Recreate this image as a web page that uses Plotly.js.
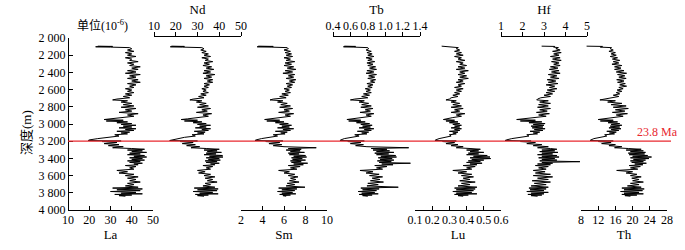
<!DOCTYPE html>
<html>
<head>
<meta charset="utf-8">
<script src="https://cdn.plot.ly/plotly-3.0.1.min.js"></script>
<style>
  html, body { margin: 0; padding: 0; background: #ffffff; }
  #chart { width: 685px; height: 250px; }
</style>
</head>
<body>
<div id="chart"></div>
<script>
// depth samples (m), shared by every element curve
var depth = [
  2095, 2098, 2102, 2106, 2112, 2125, 2140, 2155, 2170, 2185,
  2200, 2215, 2230, 2245, 2260, 2275, 2290, 2305, 2320, 2335,
  2350, 2365, 2380, 2395, 2410, 2425, 2440, 2455, 2470, 2485,
  2500, 2515, 2530, 2545, 2560, 2575, 2590, 2605, 2620, 2635,
  2650, 2665, 2680, 2695, 2710, 2720, 2730, 2745, 2760, 2775,
  2790, 2805, 2820, 2835, 2850, 2865, 2880, 2895, 2910, 2925,
  2940, 2948, 2956, 2965, 2975, 2985, 2995, 3005, 3015, 3025,
  3035, 3045, 3055, 3065, 3075, 3085, 3095, 3105, 3115, 3125,
  3140, 3155, 3170, 3185, 3192, 3198, 3204, 3215, 3228, 3240,
  3252, 3264, 3276, 3285, 3294, 3303, 3312, 3321, 3330, 3339,
  3348, 3357, 3366, 3375, 3384, 3393, 3402, 3411, 3420, 3429,
  3438, 3447, 3456, 3465, 3474, 3483, 3495, 3510, 3525, 3540,
  3555, 3570, 3585, 3600, 3615, 3630, 3645, 3660, 3675, 3690,
  3705, 3720, 3735, 3745, 3755, 3765, 3775, 3785, 3795, 3805,
  3812, 3819, 3826, 3833, 3840
];

// element contents (10^-6), one value per depth sample
var La = [
  24, 31, 23, 30, 39, 40, 38, 41, 37, 40,
  38, 42, 37, 40, 39, 43, 38, 41, 39, 44,
  40, 43, 38, 42, 37, 44, 39, 42, 38, 43,
  40, 44, 38, 42, 39, 41, 37, 40, 38, 41,
  37, 40, 36, 39, 33, 31, 38, 35, 40, 36,
  41, 35, 42, 37, 40, 34, 43, 38, 41, 36,
  30, 27, 36, 28, 38, 33, 40, 35, 42, 36,
  40, 34, 42, 37, 41, 33, 39, 35, 38, 32,
  34, 28, 24, 20, 19.5, 35, 26, 33, 27, 34,
  29, 36, 31, 40, 46, 38, 45, 40, 47, 39,
  44, 38, 46, 41, 47, 39, 45, 40, 46, 38,
  44, 39, 45, 41, 43, 37, 42, 39, 41, 33,
  38, 34, 41, 37, 43, 38, 42, 39, 44, 38,
  41, 37, 43, 31, 45, 33, 44, 30, 42, 35,
  45, 32, 40, 34, 37
];

var Nd = [
  18, 24, 17.5, 23, 32, 33, 31.5, 34, 32, 35,
  33, 36, 32, 35, 33.5, 37, 33, 35.5, 32.5, 36.5,
  34, 37.5, 33, 36, 32.5, 38, 34, 36.5, 33, 37,
  34.5, 37, 33, 35.5, 33, 35, 32, 34, 32.5, 35,
  31.5, 34, 30.5, 33, 28, 26.5, 32, 29.5, 34, 31,
  35, 30, 36, 32, 34.5, 29.5, 36.5, 32.5, 35, 31,
  25.5, 22.5, 30, 24, 32, 28, 34, 30, 36, 31,
  34, 29, 36, 32, 35, 28.5, 33.5, 30, 33, 27.5,
  29, 24, 21, 17.5, 17.2, 30, 22, 28, 23, 29,
  25, 31, 27, 34, 40, 33, 39, 34.5, 41, 34,
  38.5, 33, 41.5, 35.5, 41.7, 34, 40, 35, 40.5, 33.5,
  39, 34, 40, 36, 38, 32.5, 37, 34, 36, 30,
  33.5, 30.5, 36, 33, 38, 33.5, 37, 34.5, 39, 33.5,
  36, 32.5, 38, 28.5, 39.5, 30, 39, 28, 37, 31,
  39.5, 29, 35, 30, 33
];

var Sm = [
  3.6, 5.0, 3.5, 4.8, 6.3, 6.4, 6.0, 6.6, 6.1, 6.7,
  6.2, 6.8, 6.0, 6.6, 6.2, 7.0, 6.1, 6.7, 6.0, 6.9,
  6.3, 7.1, 6.1, 6.8, 5.9, 7.0, 6.4, 6.9, 6.2, 7.1,
  6.5, 7.0, 6.2, 6.8, 6.3, 6.7, 6.0, 6.5, 6.1, 6.6,
  5.8, 6.4, 5.6, 6.2, 5.0, 4.7, 5.9, 5.4, 6.3, 5.7,
  6.6, 5.6, 6.8, 6.0, 6.5, 5.5, 6.9, 6.1, 6.6, 5.7,
  4.6, 4.2, 5.6, 4.4, 6.0, 5.2, 6.4, 5.6, 6.7, 5.8,
  6.5, 5.4, 6.9, 5.9, 6.6, 5.2, 6.3, 5.7, 6.1, 5.0,
  5.4, 4.5, 3.9, 3.4, 3.3, 5.9, 4.3, 5.6, 4.6, 5.8,
  5.0, 6.0, 9.0, 6.4, 7.6, 6.2, 7.5, 6.6, 7.9, 6.4,
  7.4, 6.5, 8.0, 6.9, 8.1, 6.7, 7.7, 6.8, 8.0, 6.6,
  7.6, 6.7, 8.2, 6.9, 7.8, 6.4, 7.5, 6.6, 7.2, 5.5,
  6.5, 6.0, 7.0, 6.4, 7.3, 6.6, 7.1, 6.5, 7.4, 6.3,
  7.0, 6.2, 7.95, 5.5, 7.2, 5.8, 7.0, 5.4, 6.8, 5.8,
  7.1, 5.6, 6.6, 5.9, 6.2
];

var Tb = [
  0.53, 0.66, 0.52, 0.64, 0.80, 0.81, 0.78, 0.84, 0.79, 0.85,
  0.80, 0.87, 0.78, 0.85, 0.80, 0.88, 0.79, 0.86, 0.80, 0.89,
  0.82, 0.90, 0.79, 0.87, 0.78, 0.90, 0.81, 0.88, 0.80, 0.89,
  0.83, 0.88, 0.79, 0.86, 0.80, 0.85, 0.77, 0.83, 0.78, 0.84,
  0.75, 0.82, 0.73, 0.80, 0.65, 0.60, 0.76, 0.70, 0.81, 0.73,
  0.84, 0.72, 0.86, 0.77, 0.83, 0.71, 0.87, 0.78, 0.84, 0.73,
  0.60, 0.56, 0.72, 0.58, 0.77, 0.67, 0.82, 0.72, 0.85, 0.74,
  0.83, 0.70, 0.87, 0.76, 0.84, 0.68, 0.81, 0.73, 0.79, 0.65,
  0.70, 0.59, 0.53, 0.49, 0.48, 0.76, 0.57, 0.72, 0.60, 0.75,
  0.66, 0.79, 1.27, 0.84, 1.02, 0.86, 1.05, 0.90, 1.10, 0.88,
  1.04, 0.90, 1.12, 0.95, 1.13, 0.92, 1.08, 0.94, 1.10, 0.91,
  1.07, 0.93, 1.29, 0.96, 1.09, 0.88, 1.02, 0.90, 0.97, 0.71,
  0.86, 0.78, 0.93, 0.82, 0.97, 0.85, 0.94, 0.83, 0.98, 0.80,
  0.92, 0.79, 1.15, 0.72, 0.93, 0.74, 0.90, 0.69, 0.88, 0.73,
  0.92, 0.70, 0.85, 0.74, 0.80
];

var Lu = [
  0.255, 0.28, 0.31, 0.335, 0.352, 0.34, 0.36, 0.33, 0.37, 0.34,
  0.38, 0.33, 0.37, 0.35, 0.39, 0.34, 0.38, 0.36, 0.40, 0.35,
  0.39, 0.34, 0.41, 0.36, 0.39, 0.35, 0.40, 0.36, 0.41, 0.35,
  0.38, 0.34, 0.39, 0.35, 0.37, 0.33, 0.38, 0.34, 0.37, 0.33,
  0.36, 0.32, 0.35, 0.31, 0.30, 0.28, 0.34, 0.31, 0.36, 0.32,
  0.37, 0.31, 0.38, 0.33, 0.36, 0.31, 0.39, 0.34, 0.37, 0.32,
  0.29, 0.265, 0.33, 0.28, 0.35, 0.30, 0.36, 0.32, 0.37, 0.33,
  0.36, 0.31, 0.37, 0.33, 0.36, 0.30, 0.35, 0.32, 0.34, 0.30,
  0.31, 0.27, 0.24, 0.22, 0.216, 0.34, 0.26, 0.33, 0.28, 0.35,
  0.31, 0.38, 0.34, 0.42, 0.48, 0.40, 0.47, 0.42, 0.50, 0.41,
  0.47, 0.40, 0.52, 0.44, 0.536, 0.42, 0.54, 0.43, 0.50, 0.41,
  0.48, 0.40, 0.49, 0.42, 0.46, 0.38, 0.45, 0.40, 0.43, 0.32,
  0.40, 0.35, 0.43, 0.37, 0.44, 0.38, 0.42, 0.36, 0.45, 0.37,
  0.42, 0.35, 0.46, 0.33, 0.45, 0.34, 0.44, 0.32, 0.43, 0.34,
  0.46, 0.33, 0.41, 0.35, 0.38
];

var Hf = [
  2.89, 3.5, 2.95, 3.45, 3.67, 3.55, 3.75, 3.4, 3.8, 3.45,
  3.7, 3.3, 3.75, 3.4, 3.8, 3.35, 3.7, 3.45, 3.75, 3.3,
  3.65, 3.25, 3.7, 3.35, 3.75, 3.2, 3.6, 3.3, 3.7, 3.15,
  3.55, 3.2, 3.65, 3.1, 3.5, 3.25, 3.6, 3.15, 3.5, 3.1,
  3.4, 3.0, 3.3, 2.85, 2.7, 2.66, 3.2, 2.8, 3.3, 2.75,
  3.2, 2.7, 3.3, 2.8, 3.15, 2.65, 3.25, 2.75, 3.1, 2.6,
  2.2, 1.73, 2.6, 1.9, 2.9, 2.3, 3.05, 2.5, 3.0, 2.4,
  2.95, 2.45, 3.05, 2.55, 2.95, 2.35, 2.8, 2.5, 2.7, 2.2,
  2.3, 1.8, 1.5, 1.25, 1.19, 2.4, 1.9, 2.6, 2.2, 2.9,
  2.5, 3.2, 2.7, 3.3, 3.6, 2.9, 3.5, 2.8, 3.65, 2.9,
  3.4, 2.7, 3.6, 2.9, 3.7, 2.75, 3.5, 2.9, 3.6, 2.8,
  4.67, 2.9, 3.4, 2.7, 3.3, 2.6, 3.2, 2.75, 3.1, 2.5,
  3.05, 2.6, 3.3, 2.5, 3.4, 2.7, 3.2, 2.45, 3.3, 2.55,
  3.1, 2.4, 3.2, 2.3, 3.1, 2.35, 3.0, 2.2, 3.2, 2.4,
  3.0, 2.25, 2.9, 2.4, 2.7
];

var Th = [
  9.3, 13, 9.5, 12.5, 15.1, 14.8, 15.5, 14.5, 16, 15,
  16.2, 14.8, 16.5, 15.3, 17, 15.5, 16.8, 15.2, 17.5, 15.8,
  17.3, 15.8, 18, 16.2, 18.6, 16.5, 18.2, 16.8, 18.5, 16.3,
  18, 16.5, 18.3, 17, 18.6, 16.8, 17.8, 16.4, 17.5, 16.2,
  17, 15.5, 16.8, 15.2, 13.5, 12.4, 16, 14.2, 17.5, 15,
  18.5, 15.5, 19, 16, 18.2, 15.3, 18.8, 16.2, 17.8, 15,
  13, 12, 15.5, 12.5, 16.5, 14.3, 17, 15, 17.5, 14.8,
  17, 14.5, 17.3, 15, 16.8, 14, 16.2, 14.6, 15.8, 13.5,
  14, 12.3, 11, 10.3, 10.1, 15.5, 12, 15, 12.8, 16,
  14.5, 17.5, 15.8, 19, 22, 18.5, 22.5, 19.5, 23, 19,
  22.8, 19.2, 23.5, 20, 24.4, 19.5, 23.8, 20.2, 23, 19.5,
  22.5, 19.8, 23.2, 20.5, 22.4, 19.2, 21.8, 19.5, 21.2, 16.3,
  20, 18.5, 21, 19.5, 22, 19.8, 21.5, 20, 22.5, 19.5,
  21.5, 18.8, 22, 17.5, 22.7, 18, 22.3, 17.2, 21.5, 18,
  22.5, 17.5, 21, 18.2, 19.5
];

// panel names, x ranges and tick settings
var names = ['La', 'Nd', 'Sm', 'Tb', 'Lu', 'Hf', 'Th'];
var series = [La, Nd, Sm, Tb, Lu, Hf, Th];
var ranges = [[10, 50], [10, 50], [2, 10], [0.4, 1.4], [0.1, 0.6], [1, 5], [8, 28]];
var dticks = [10, 10, 2, 0.2, 0.1, 1, 4];
var sides = ['bottom', 'top', 'bottom', 'top', 'bottom', 'top', 'bottom'];

// pixel placement of each panel (left, right) in the 685 px page
var panelPx = [[68, 153], [154, 241], [241, 327], [333, 420], [415, 501], [501, 587], [581, 667]];

var W = 685, H = 250;
var serif = 'Liberation Serif, Times New Roman, Noto Sans CJK SC, serif';
var red = '#e8282f';

var yTop = 38, yBottom = 210; // pixel rows of 2000 m and 4000 m
var topAxisPx = 36;           // pixel row of the upper x axes

var layout = {
  width: W,
  height: H,
  margin: {l: 0, r: 0, t: 0, b: 0},
  paper_bgcolor: '#ffffff',
  plot_bgcolor: 'rgba(0,0,0,0)',
  showlegend: false,
  separators: '. ',
  font: {family: serif, size: 12, color: '#000000'},
  yaxis: {
    domain: [1 - yBottom / H, 1 - yTop / H],
    range: [4000, 2000],
    dtick: 200,
    tick0: 2000,
    tickformat: ',d',
    ticks: 'inside',
    ticklen: 4,
    tickcolor: '#000000',
    showline: true,
    linecolor: '#000000',
    linewidth: 1,
    showgrid: false,
    zeroline: false,
    anchor: 'free',
    position: panelPx[0][0] / W,
    tickfont: {family: serif, size: 12}
  },
  shapes: [{
    type: 'line',
    xref: 'paper', yref: 'y',
    x0: 68 / W, x1: 671 / W,
    y0: 3200, y1: 3200,
    line: {color: red, width: 1.3}
  }],
  annotations: [
    // depth axis title, placed next to the tick labels
    {
      text: '深度(m)',
      xref: 'paper', yref: 'paper',
      x: 26 / W, y: 1 - 133 / H,
      xanchor: 'center', yanchor: 'middle',
      textangle: -90,
      showarrow: false,
      font: {family: serif, size: 13}
    },
    {
      text: '单位(10<sup>-6</sup>)',
      xref: 'paper', yref: 'paper',
      x: 102 / W, y: 1 - 26 / H,
      xanchor: 'center', yanchor: 'middle',
      showarrow: false,
      font: {family: serif, size: 12}
    },
    {
      text: '23.8 Ma',
      xref: 'paper', yref: 'y',
      x: 635 / W, y: 3200,
      xanchor: 'left', yanchor: 'bottom',
      showarrow: false,
      font: {family: serif, size: 12, color: red}
    }
  ]
};

var data = [];

// build one x axis and one trace per element
for (var i = 0; i < names.length; i++) {
  var key = i === 0 ? 'xaxis' : 'xaxis' + (i + 1);
  var ref = i === 0 ? 'x' : 'x' + (i + 1);
  var isTop = sides[i] === 'top';

  var ax = {
    domain: [panelPx[i][0] / W, panelPx[i][1] / W],
    range: ranges[i],
    tick0: ranges[i][0],
    dtick: dticks[i],
    tickangle: 0,
    side: sides[i],
    anchor: 'free',
    position: isTop ? 1 - topAxisPx / H : 1 - yBottom / H,
    ticks: isTop ? 'outside' : 'inside',
    ticklen: 4,
    ticklabelstandoff: isTop ? -3 : -1,
    tickcolor: '#000000',
    showline: true,
    linecolor: '#000000',
    linewidth: 1,
    showgrid: false,
    zeroline: false,
    tickfont: {family: serif, size: 12},
    title: {text: names[i], font: {family: serif, size: 13}, standoff: isTop ? 0 : 1}
  };
  if (dticks[i] < 1) ax.tickformat = '.1f';
  layout[key] = ax;

  data.push({
    type: 'scatter',
    mode: 'lines',
    x: series[i],
    y: depth,
    xaxis: ref,
    yaxis: 'y',
    line: {color: '#000000', width: 1},
    hoverinfo: 'skip'
  });
}

Plotly.newPlot('chart', data, layout, {staticPlot: true, displayModeBar: false});
</script>
</body>
</html>
